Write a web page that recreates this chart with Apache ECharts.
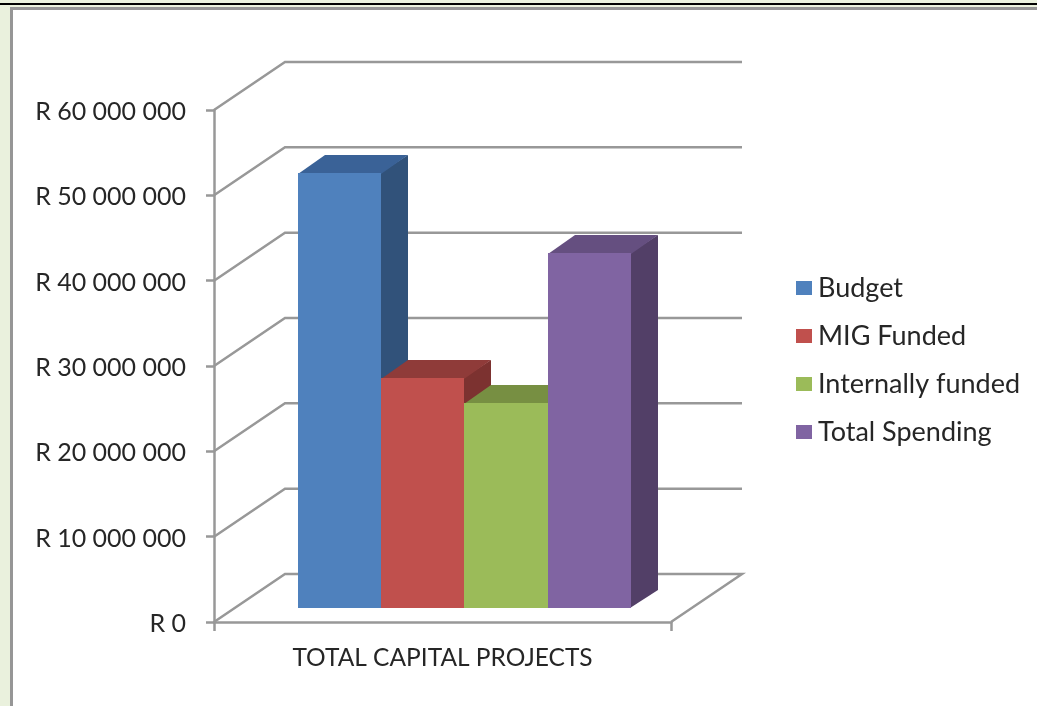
<!DOCTYPE html>
<html>
<head>
<meta charset="utf-8">
<style>
  html, body { margin: 0; padding: 0; width: 1037px; height: 706px; overflow: hidden; background: #eaf1dd; }
  #topRule { position: absolute; left: 0; top: 3px; width: 1037px; height: 2px; background: #000; }
  #panel { position: absolute; left: 10px; top: 7px; width: 1027px; height: 699px; box-sizing: border-box;
           background: #fff; border-left: 3px solid #969696; border-top: 3px solid #969696; }
  #chart { position: absolute; left: 0; top: 0; width: 1037px; height: 706px; }
</style>
</head>
<body>
<div id="topRule"></div>
<div id="panel"></div>
<div id="chart"></div>
<script src="https://cdn.jsdelivr.net/npm/echarts@6/dist/echarts.min.js"></script>
<script>
const categories = ['TOTAL CAPITAL PROJECTS'];
const seriesNames = ['Budget', 'MIG Funded', 'Internally funded', 'Total Spending'];
const budget = [51000000];
const migFunded = [27000000];
const internallyFunded = [24000000];
const totalSpending = [41600000];
const yTicks = [0, 10000000, 20000000, 30000000, 40000000, 50000000, 60000000];

const seriesValues = [budget, migFunded, internallyFunded, totalSpending];
const faceColors = ['#4f81bd', '#c0504d', '#9bbb59', '#8064a2'];
const topColors = ['#3a6297', '#8f3b39', '#778f42', '#654f80'];
const sideColors = ['#31527a', '#7c3230', '#667b38', '#523f67'];

const gridLine = '#989898';
const lineWidth = 2.5;
const fontFamily = 'Lato, "Open Sans", sans-serif';
// Oblique projection: wall depth and the nearer plane the bars stand on.
const wallDepth = { x: 71, y: -48 };
const barInset = { x: 21.9, y: -14 };
const barDepth = { x: 27, y: -18 };
const barBandShare = 0.182;

function formatRand(v) {
  return '{amount|R ' + String(v).replace(/\B(?=(\d{3})+$)/g, ' ') + '}';
}

function renderWall(params, api) {
  const y = api.coord([0, api.value(1)])[1];
  const left = params.coordSys.x;
  const right = left + params.coordSys.width;
  const style = { fill: 'none', stroke: gridLine, lineWidth };
  const points = [[left, y], [left + wallDepth.x, y + wallDepth.y], [right + wallDepth.x, y + wallDepth.y]];
  if (api.value(1) === 0) {
    points.push([right, y]);
  }
  return { type: 'polyline', shape: { points }, style };
}

function barRenderer(index) {
  return function (params, api) {
    const top = api.coord([0, api.value(1)]);
    const base = api.coord([0, 0]);
    const w = api.size([1, 0])[0] * barBandShare;
    const xl = Math.round(top[0] + barInset.x + (index - seriesNames.length / 2) * w);
    const xr = Math.round(top[0] + barInset.x + (index + 1 - seriesNames.length / 2) * w);
    const yt = Math.round(top[1] + barInset.y);
    const yb = Math.round(base[1] + barInset.y);
    const dx = barDepth.x, dy = barDepth.y;
    return {
      type: 'group',
      children: [
        // The side and top start one pixel under the front face so no seam shows.
        { type: 'polygon', shape: { points: [[xr - 1, yt], [xr + dx, yt + dy], [xr + dx, yb + dy], [xr - 1, yb]] },
          style: { fill: sideColors[index] } },
        { type: 'polygon', shape: { points: [[xl, yt + 1], [xl + dx, yt + dy], [xr + dx, yt + dy], [xr, yt + 1]] },
          style: { fill: topColors[index] } },
        { type: 'rect', shape: { x: xl, y: yt, width: xr - xl, height: yb - yt },
          style: { fill: faceColors[index] } }
      ]
    };
  };
}

const chart = echarts.init(document.getElementById('chart'), null, { renderer: 'canvas' });
chart.setOption({
  backgroundColor: 'transparent',
  animation: false,
  grid: { left: 214, top: 110, width: 457, height: 512, containLabel: false },
  legend: {
    orient: 'vertical',
    left: 796,
    top: 273,
    padding: 0,
    itemWidth: 16,
    itemHeight: 14,
    itemGap: 18,
    icon: 'rect',
    data: seriesNames,
    textStyle: { fontFamily, fontSize: 27, lineHeight: 30, color: '#262626', padding: [0, 0, 0, 1] }
  },
  xAxis: {
    type: 'category',
    data: categories,
    axisLine: { lineStyle: { color: gridLine, width: lineWidth } },
    axisTick: { show: true, length: 9, alignWithLabel: false, lineStyle: { color: gridLine, width: lineWidth } },
    axisLabel: { fontFamily, fontSize: 24.5, color: '#262626', margin: 24 }
  },
  yAxis: {
    type: 'value',
    min: 0,
    max: 60000000,
    interval: 10000000,
    splitLine: { show: false },
    axisLine: { show: true, lineStyle: { color: gridLine, width: lineWidth } },
    axisTick: { show: true, length: 8, lineStyle: { color: gridLine, width: lineWidth } },
    axisLabel: {
      margin: 28,
      formatter: formatRand,
      rich: { amount: { fontFamily, fontSize: 25, color: '#262626', padding: [4, 0, 0, 0] } }
    }
  },
  series: [
    {
      type: 'custom',
      name: 'walls',
      coordinateSystem: 'cartesian2d',
      silent: true,
      z: 1,
      renderItem: renderWall,
      data: yTicks.map(t => [0, t])
    }
  ].concat(seriesNames.map((name, i) => ({
    type: 'custom',
    name,
    coordinateSystem: 'cartesian2d',
    itemStyle: { color: faceColors[i] },
    z: 2 + i,
    renderItem: barRenderer(i),
    data: seriesValues[i].map((v, c) => [c, v])
  })))
});
</script>
</body>
</html>
